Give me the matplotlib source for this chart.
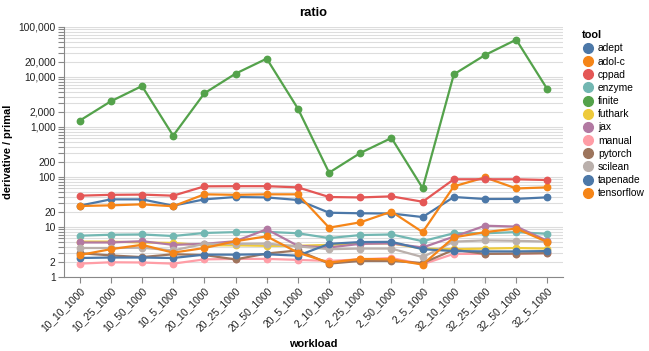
import matplotlib
matplotlib.use("Agg")
import matplotlib.pyplot as plt
from matplotlib.lines import Line2D
from matplotlib.ticker import FixedLocator, FuncFormatter, NullLocator

workloads = ["10_10_1000", "10_25_1000", "10_50_1000", "10_5_1000",
             "20_10_1000", "20_25_1000", "20_50_1000", "20_5_1000",
             "2_10_1000", "2_25_1000", "2_50_1000", "2_5_1000",
             "32_10_1000", "32_25_1000", "32_50_1000", "32_5_1000"]

tools = ["adept", "adol-c", "cppad", "enzyme", "finite", "futhark",
         "jax", "manual", "pytorch", "scilean", "tapenade", "tensorflow"]

adept = [26.7, 35.7, 35.7, 26.7, 35.7, 39.8, 39.0, 34.7,
         19.3, 18.8, 18.6, 15.8, 39.8, 36.3, 36.5, 39.2]
adol_c = [26.3, 27.1, 28.4, 26.0, 45.0, 44.0, 45.0, 45.0,
          9.7, 12.4, 20.3, 7.9, 65.0, 98.0, 59.0, 62.0]
cppad = [42.3, 44.0, 44.5, 42.3, 65.0, 65.5, 65.5, 62.0,
         39.8, 39.0, 41.0, 32.0, 90.0, 90.0, 90.0, 87.0]
enzyme = [6.7, 7.0, 7.1, 6.6, 7.6, 7.9, 8.0, 7.5,
          6.0, 6.9, 7.1, 5.2, 7.5, 7.5, 7.9, 7.3]
finite = [1336, 3260, 6600, 670, 4720, 11660, 23300, 2330,
          122, 302, 603, 60, 11300, 27500, 55800, 5670]
futhark = [5.1, 5.1, 4.9, 4.8, 4.3, 4.3, 4.2, 4.2,
           4.4, 4.7, 4.7, 3.7, 3.6, 3.7, 3.8, 3.7]
jax = [4.9, 4.9, 5.2, 4.4, 4.6, 5.2, 9.0, 4.2,
       3.9, 4.6, 4.7, 3.9, 6.4, 10.6, 10.2, 5.3]
manual = [1.85, 1.97, 1.95, 1.85, 2.25, 2.3, 2.3, 2.2,
          2.1, 2.25, 2.4, 1.8, 2.9, 2.9, 2.9, 3.0]
pytorch = [3.0, 2.7, 2.5, 2.85, 2.75, 2.25, 2.95, 3.4,
           1.85, 2.1, 2.1, 1.9, 3.5, 2.9, 2.95, 3.0]
scilean = [3.8, 3.8, 3.85, 3.4, 4.6, 4.6, 4.65, 4.1,
           3.6, 3.7, 3.7, 2.5, 5.1, 5.4, 5.3, 5.1]
tapenade = [2.4, 2.45, 2.45, 2.4, 2.8, 2.8, 2.85, 2.67,
            4.6, 5.0, 5.05, 3.6, 3.3, 3.25, 3.25, 3.3]
tensorflow = [2.75, 3.6, 4.4, 3.07, 3.8, 5.2, 6.5, 3.07,
              1.94, 2.3, 2.25, 1.77, 6.2, 7.9, 9.3, 5.0]

series = [adept, adol_c, cppad, enzyme, finite, futhark,
          jax, manual, pytorch, scilean, tapenade, tensorflow]

colors = ["#4c78a8", "#f58518", "#e45756", "#72b7b2", "#54a24b", "#eeca3b",
          "#b279a2", "#ff9da6", "#9d755d", "#bab0ac", "#4c78a8", "#f58518"]

y_labeled = [1, 2, 10, 20, 100, 200, 1000, 2000, 10000, 20000, 100000]


def plot():
    plt.rcParams["font.family"] = ["Liberation Sans", "DejaVu Sans"]
    fig = plt.figure(figsize=(6.49, 3.51), dpi=100)
    ax = fig.add_axes([64 / 649, 1 - 277 / 351, (563 - 64) / 649, 250 / 351])

    x = list(range(len(workloads)))
    for name, vals, col in zip(tools, series, colors):
        ax.plot(x, vals, color=col, linewidth=1.6, marker="o", markersize=4.6,
                label=name, solid_joinstyle="round")

    ax.set_yscale("log")
    ax.set_ylim(1, 100000)
    ax.set_xlim(-0.5, len(workloads) - 0.5)

    grid_vals = [m * 10 ** e for e in range(0, 5) for m in range(1, 10)] + [100000]
    ax.yaxis.set_major_locator(FixedLocator(grid_vals))
    ax.yaxis.set_minor_locator(NullLocator())
    ax.yaxis.set_major_formatter(FuncFormatter(
        lambda v, p: f"{int(round(v)):,}" if int(round(v)) in y_labeled else ""))
    ax.grid(True, axis="y", color="#dddddd", linewidth=0.8)
    ax.set_axisbelow(True)

    ax.set_xticks(x)
    ax.set_xticklabels(workloads, rotation=45, ha="right", va="top",
                       rotation_mode="anchor", fontsize=7.4)
    ax.tick_params(axis="both", colors="#888888", length=4, width=0.8,
                   labelcolor="#222222", labelsize=7.4, pad=2)

    for s in ["top", "right"]:
        ax.spines[s].set_visible(False)
    for s in ["left", "bottom"]:
        ax.spines[s].set_color("#888888")
        ax.spines[s].set_linewidth(0.8)

    ax.set_title("ratio", fontsize=9.4, fontweight="bold", pad=8)
    ax.set_xlabel("workload", fontsize=7.9, fontweight="bold", labelpad=4)
    ax.set_ylabel("derivative / primal", fontsize=7.9, fontweight="bold")
    ax.yaxis.set_label_coords((13 - 64) / 499, 0.5)

    handles = [Line2D([], [], linestyle="", marker="o", markersize=7,
                      color=c) for c in colors]
    leg = fig.legend(handles, tools, loc="upper left",
                     bbox_to_anchor=(575 / 649, 1 - 23 / 351),
                     frameon=False, fontsize=7.4, title="tool",
                     title_fontproperties={"weight": "bold", "size": 7.9},
                     labelspacing=0.31, handletextpad=0.35, handlelength=1.2,
                     borderpad=0.2)
    leg._legend_box.align = "left"

    plt.savefig("out.png", dpi=100)


if __name__ == "__main__":
    plot()
